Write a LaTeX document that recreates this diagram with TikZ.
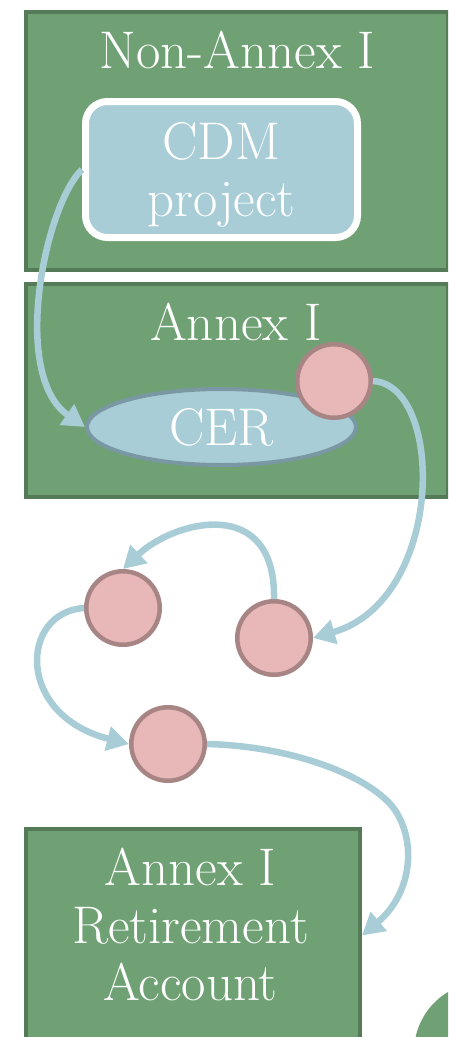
\documentclass[tikz,border=0pt]{standalone}
\usetikzlibrary{arrows.meta,shapes.geometric}
\definecolor{boxfill}{RGB}{112,161,116}
\definecolor{boxline}{RGB}{84,122,87}
\definecolor{lblue}{RGB}{168,205,214}
\definecolor{ellline}{RGB}{122,152,163}
\definecolor{pinkfill}{RGB}{232,183,183}
\definecolor{pinkline}{RGB}{168,133,133}
\begin{document}
\begin{tikzpicture}[x=1pt,y=-1pt,
 greenbox/.style={draw=boxline,fill=boxfill,line width=4pt,rectangle,inner sep=0pt,anchor=north west},
 bigtext/.style={text=white,font=\fontsize{53}{57.5}\selectfont},
 token/.style={circle,draw=pinkline,fill=pinkfill,line width=4.5pt,minimum size=73.5pt,inner sep=0pt},
 flow/.style={draw=lblue,line width=6.5pt,-{Triangle[length=22pt,width=24pt]}}]
\useasboundingbox (0,0) rectangle (448,1037);
\clip (0,0) rectangle (448,1037);
\node[greenbox,minimum width=422pt,minimum height=258pt] (nonannex) at (24,10) {};
\node[greenbox,minimum width=422pt,minimum height=213pt] (annex) at (24,282) {};
\node[greenbox,minimum width=334pt,minimum height=213pt] (retire) at (24,827) {};
\node[circle,fill=boxfill,minimum size=140pt,inner sep=0pt] (corner) at (484,1052) {};
\node[bigtext,anchor=base] (t1) at (237.5,68) {Non-Annex I};
\node[bigtext,anchor=base] (t2) at (236,340) {Annex I};
\node[bigtext,align=center] (t3) at (190.5,924.5) {Annex I\\Retirement\\Account};
\node[draw=white,fill=lblue,line width=7pt,rounded corners=22pt,minimum width=272pt,minimum height=136pt,inner sep=0pt,bigtext,align=center,text depth=0pt] (cdm) at (221.5,169.5) {CDM\\project};
\node[ellipse,draw=ellline,fill=lblue,line width=4pt,minimum width=269pt,minimum height=76pt,inner sep=0pt,bigtext] (cer) at (221.5,427) {CER};
\node[token] (c0) at (334,381) {};
\node[token] (ca) at (123,608) {};
\node[token] (cb) at (274,638) {};
\node[token] (cc) at (168,744) {};
\draw[flow] (cdm.west) .. controls (45,205) and (10,375) .. (cer.west);
\draw[flow] (c0.east) .. controls (445,385) and (445,600) .. (cb.east);
\draw[flow] (cb.north) .. controls (276,495) and (175,520) .. (ca.north);
\draw[flow] (ca.west) .. controls (20,612) and (15,715) .. (cc.west);
\draw[flow] (cc.east) .. controls (290,746) and (370,775) .. (395,810) .. controls (418,845) and (410,895) .. (retire.east);
\end{tikzpicture}
\end{document}
